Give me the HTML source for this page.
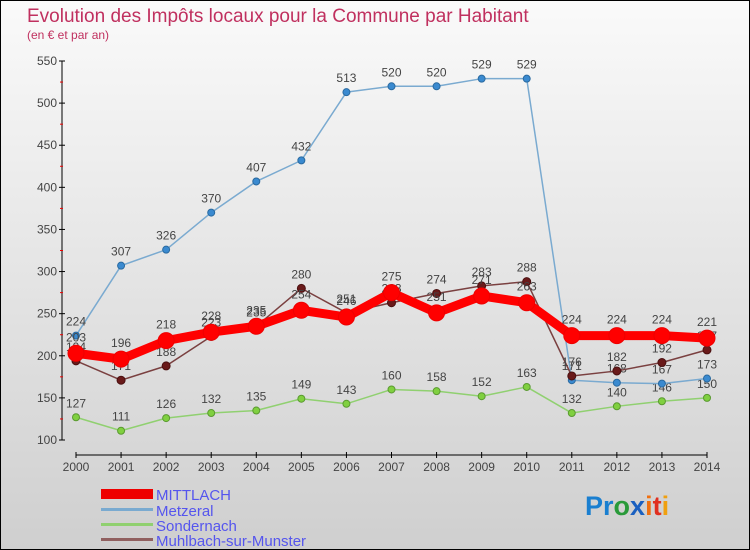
<!DOCTYPE html>
<html><head><meta charset="utf-8"><style>
body{margin:0}
#c{width:750px;height:550px;position:relative;box-sizing:border-box;border:1px solid #000;background:linear-gradient(#fafafa,#cfcfcf);font-family:"Liberation Sans",sans-serif;overflow:hidden}
</style></head><body>
<div id="c">
<svg id="s" width="750" height="550" style="position:absolute;left:0;top:0">
<text x="26" y="21" font-size="19" fill="#c0305f">Evolution des Impôts locaux pour la Commune par Habitant</text>
<text x="26" y="38" font-size="12" fill="#c0305f">(en € et par an)</text>
<g id="axes"></g><g id="series"></g>
<g>
<rect x="100" y="488" width="52" height="10" fill="#e00"/>
<text x="155" y="499" font-size="15" fill="#5555ee">MITTLACH</text>
<rect x="100" y="507" width="52" height="3" fill="#7aaad0"/>
<text x="155" y="515" font-size="15" fill="#5555ee">Metzeral</text>
<rect x="100" y="522" width="52" height="3" fill="#90d070"/>
<text x="155" y="530" font-size="15" fill="#5555ee">Sondernach</text>
<rect x="100" y="537" width="52" height="3" fill="#906060"/>
<text x="155" y="545" font-size="15" fill="#5555ee">Muhlbach-sur-Munster</text>
</g>
<text x="584" y="514" font-size="27" font-weight="bold"><tspan fill="#1a7fd0">Pr</tspan><tspan fill="#2a9a3a">o</tspan><tspan fill="#1a60c0">x</tspan><tspan fill="#f07010">i</tspan><tspan fill="#e03020">t</tspan><tspan fill="#f0a010">i</tspan></text>
</svg>
</div>
<script>
const years=[2000,2001,2002,2003,2004,2005,2006,2007,2008,2009,2010,2011,2012,2013,2014];
const yTicks=[100,150,200,250,300,350,400,450,500,550];
const mittlach=[203,196,218,228,235,254,246,275,251,271,263,224,224,224,221];
const metzeral=[224,307,326,370,407,432,513,520,520,529,529,171,168,167,173];
const sondernach=[127,111,126,132,135,149,143,160,158,152,163,132,140,146,150];
const muhlbach=[194,171,188,223,235,280,251,263,274,283,288,176,182,192,207];
const NS='http://www.w3.org/2000/svg';
function X(i){return 75+i*(706-75)/(years.length-1);}
function Y(v){return 439-(v-100)*(439-60)/450;}
function mk(t,a,p){const e=document.createElementNS(NS,t);for(const k in a)e.setAttribute(k,a[k]);p.appendChild(e);return e;}
const ax=document.getElementById('axes');
const ya=mk('line',{x1:61,y1:Y(550),x2:61,y2:Y(100),stroke:'#000'},ax);


yTicks.forEach((v,i)=>{
 mk('line',{x1:58,y1:Y(v),x2:64,y2:Y(v),stroke:'#000'},ax);
 if(i<yTicks.length-1) mk('line',{x1:59,y1:Y(v+25),x2:62,y2:Y(v+25),stroke:'#e00'},ax);
 const t=mk('text',{x:56,y:Y(v)+4,'text-anchor':'end','font-size':12,fill:'#444'},ax);t.textContent=v;
 
 
});
const xa=mk('line',{x1:75,y1:454,x2:706,y2:454,stroke:'#000'},ax);


years.forEach((y,i)=>{
 mk('line',{x1:X(i),y1:451,x2:X(i),y2:457,stroke:'#000'},ax);
 const t=mk('text',{x:X(i),y:470,'text-anchor':'middle','font-size':12,fill:'#444'},ax);t.textContent=y;
 
 
});
const sg=document.getElementById('series');
function draw(name,vals,color,w,r,dot,stroke,labelOff){
 const g=mk('g',{},sg);
 
 
 const l=mk('polyline',{points:vals.map((v,i)=>X(i)+','+Y(v)).join(' '),fill:'none',stroke:color,'stroke-width':w,'stroke-linejoin':'round'},g);
 
 
 vals.forEach((v,i)=>{
  const c=mk('circle',{cx:X(i),cy:Y(v),r:r,fill:dot,stroke:stroke,'stroke-width':1},g);
  
  
  const t=mk('text',{x:X(i),y:Y(v)+labelOff,'text-anchor':'middle','font-size':12,fill:'#444'},g);t.textContent=v;
  
  
 });
}
draw('sondernach',sondernach,'#90d070',1.5,3.5,'#80d040','#5a9a30',-10);
draw('metzeral',metzeral,'#7aaad0',1.5,3.5,'#3a8ad0','#2a6aa0',-10);
draw('muhlbach',muhlbach,'#7a4040',1.5,4,'#6a1a1a','#4a1010',-10);
draw('mittlach',mittlach,'#f00',9,8,'#f00','#e00',-12);
</script>
</body></html>
